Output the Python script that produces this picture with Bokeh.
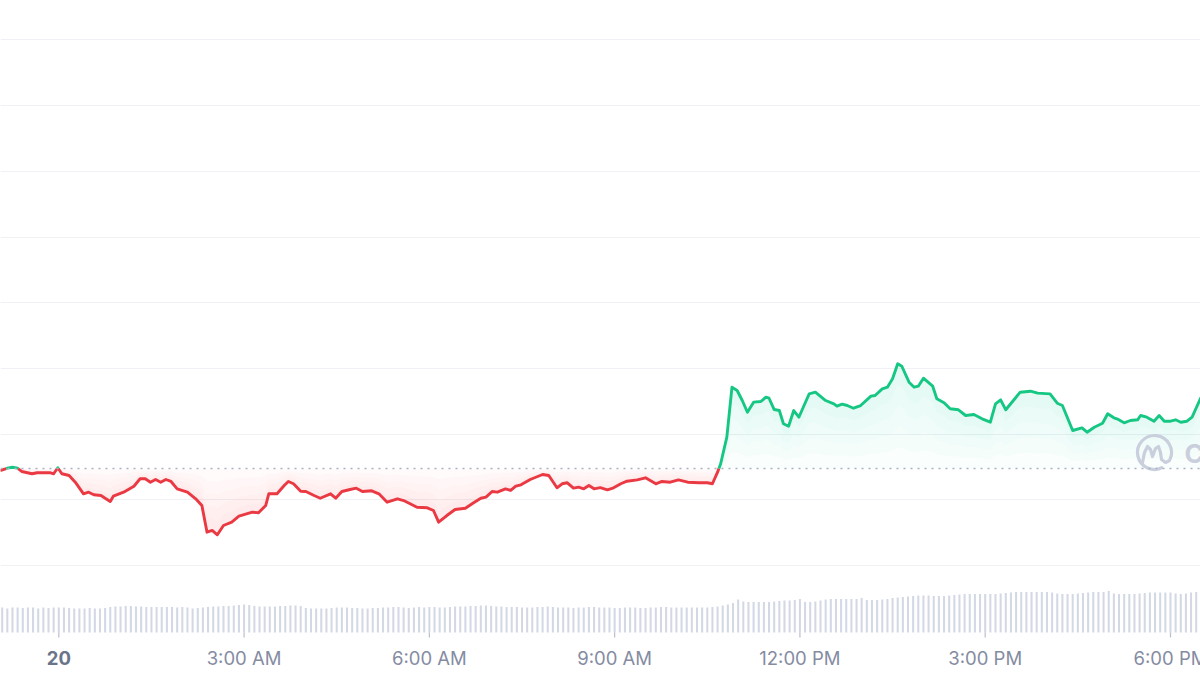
import math
from bokeh.plotting import figure
from bokeh.models import Range1d, FixedTicker, Grid, Span
from bokeh.core.properties import value
from bokeh.embed import file_html
from bokeh.resources import INLINE

# ---------------- data ----------------
# price line: minutes since midnight of the 20th, value (arbitrary price units)
price_minutes = [-57, -50, -45, -40, -36, -26, -21, -8, -5, -1, 3, 10, 16, 24, 29, 34, 41, 45, 50, 53,
                 63, 73, 79, 84, 89, 94, 99, 104, 109, 115, 125, 133, 139, 144, 149, 154, 160, 168, 175, 188,
                 194, 201, 204, 212, 219, 223, 228, 235, 240, 248, 254, 264, 269, 275, 283, 289, 295, 304, 311, 319,
                 329, 335, 348, 358, 364, 369, 377, 385, 395, 403, 410, 415, 421, 426, 434, 439, 444, 449, 458, 470,
                 476, 484, 489, 494, 500, 505, 510, 515, 520, 526, 533, 539, 546, 552, 562, 570, 580, 586, 594, 602,
                 611, 622, 630, 635, 640, 643, 649, 654, 659, 664, 669, 675, 682, 687, 690, 695, 700, 704, 709, 714,
                 719, 724, 729, 735, 745, 753, 756, 761, 766, 772, 779, 789, 793, 800, 805, 810, 815, 819, 826, 831,
                 835, 840, 849, 853, 860, 866, 874, 881, 889, 897, 905, 910, 915, 920, 934, 944, 951, 963, 970, 975,
                 985, 994, 999, 1006, 1014, 1019, 1025, 1028, 1035, 1041, 1048, 1051, 1057, 1064, 1069, 1074, 1080, 1085, 1090, 1096,
                 1101, 1109, 1114]
price_values = [14.46, 14.81, 14.96, 14.81, 14.31, 13.96, 14.11, 14.11, 13.96, 14.87, 13.96, 13.70, 12.68, 10.91, 11.16, 10.76, 10.65, 10.24, 9.74, 10.55,
                11.16, 12.07, 13.20, 13.20, 12.68, 13.09, 12.68, 13.09, 12.79, 11.67, 11.16, 10.15, 9.13, 5.07, 5.33, 4.67, 6.09, 6.59, 7.50, 8.11,
                8.02, 9.13, 10.91, 10.91, 12.18, 12.79, 12.44, 11.30, 11.26, 10.65, 10.24, 10.91, 10.24, 11.26, 11.57, 11.77, 11.26, 11.37, 10.91, 9.63,
                10.15, 9.89, 8.87, 8.78, 8.37, 6.59, 7.61, 8.52, 8.72, 9.54, 10.24, 10.40, 11.26, 11.16, 11.67, 11.42, 12.07, 12.28, 13.09, 13.85,
                13.70, 11.83, 12.44, 12.59, 11.77, 11.92, 11.67, 12.18, 11.67, 11.85, 11.52, 11.83, 12.44, 12.83, 13.04, 13.35, 12.44, 12.79, 12.68, 13.04,
                12.68, 12.59, 12.59, 12.44, 14.20, 15.48, 19.53, 27.14, 26.64, 25.11, 23.33, 24.86, 24.96, 25.62, 25.46, 23.74, 23.59, 21.57, 21.20, 23.59,
                22.57, 24.35, 26.13, 26.38, 25.11, 24.61, 24.25, 24.55, 24.35, 23.94, 24.35, 25.77, 25.88, 26.89, 27.14, 28.42, 30.70, 30.33, 27.90, 27.14,
                27.29, 28.51, 27.29, 25.37, 24.76, 23.85, 23.70, 22.83, 22.98, 22.33, 21.81, 24.61, 25.22, 23.70, 26.38, 26.53, 26.23, 26.13, 24.70, 24.35,
                20.55, 20.96, 20.29, 21.05, 21.66, 23.09, 22.48, 22.33, 21.72, 22.07, 22.18, 22.83, 22.57, 21.96, 22.83, 21.96, 21.96, 22.18, 21.81, 21.96,
                22.57, 25.37, 26.64]
baseline_value = 14.76   # opening price (dotted reference line)

# volume bars every 5 minutes, starting at minute -55
volume_start_minute = -55
volume_step_minutes = 5
volume_values = [25, 24, 25, 25, 24.5, 25, 25, 24, 25, 24.5, 25,
                 25, 25, 24.5, 24, 24, 24, 24.5, 24, 24, 24.5, 25.5, 26,
                 26, 26.5, 26.5, 26, 26, 25.5, 25.5, 25.5, 25.5, 25.5, 25.5, 25,
                 25.5, 25, 24, 24.5, 25, 25.5, 26, 26, 26.5, 26.5, 27, 27.5,
                 28, 27.5, 26.5, 26, 26, 26, 26, 26.5, 26.5, 27, 27, 26.5,
                 24.5, 24, 24, 24, 24, 24.5, 25, 25, 25, 24.5, 24.5, 24,
                 24, 24.5, 24.5, 25, 25, 25.5, 25.5, 25, 24.5, 25, 25.5, 25,
                 25.5, 25.5, 25, 25, 25.5, 26, 26, 26, 26.5, 26.5, 27, 27,
                 26.5, 26, 26, 25.5, 25.5, 25.5, 25, 25, 25, 25.5, 25.5, 26,
                 25.5, 25, 25, 25, 24.5, 25, 25, 25.5, 25.5, 25, 25, 25,
                 24.5, 24.5, 25, 25, 25, 24.5, 24.5, 25, 25, 25.5, 25.5, 25,
                 25, 25, 25, 25, 25, 25, 25, 25.5, 26, 27, 28, 29.5,
                 33, 31, 30.5, 30.5, 30.5, 30.5, 30.5, 31, 31.5, 32, 32, 32.5,
                 33.5, 30.5, 30.5, 31, 32, 33, 33.5, 33.5, 33.5, 33.5, 33.5, 33.5,
                 34.5, 32.5, 32.5, 32.5, 33, 33.5, 34.5, 35, 35.5, 36, 36.5, 37,
                 37, 37, 36.5, 36.5, 36.5, 37, 37.5, 38, 38.5, 38.5, 38.5, 38.5,
                 38.5, 38.5, 38.5, 39, 39.5, 40, 40.5, 40.5, 40.5, 40.5, 40.5, 40.5,
                 40.5, 40, 39, 38.5, 38.5, 38.5, 39, 39.5, 40, 40.5, 40.5, 40.5,
                 41.5, 39, 38.5, 38.5, 38.5, 38.5, 39, 39.5, 40, 40, 40, 40,
                 40, 39, 38.5, 39, 40, 40.5, 40.5]
volume_minutes = [volume_start_minute + i * volume_step_minutes for i in range(len(volume_values))]

tick_minutes = [0, 180, 360, 540, 720, 900, 1080]
tick_labels = ["20", "3:00 AM", "6:00 AM", "9:00 AM", "12:00 PM", "3:00 PM", "6:00 PM"]
tick_bold = [True, False, False, False, False, False, False]
grid_values = [0, 10, 20, 30, 40, 50, 60, 70, 80]

RED = "#ea3943"
GREEN = "#16c784"
FONT = "Inter"

# ---------------- layout helpers (screen pixel -> data) ----------------
PX_PER_HOUR = 61.76
X0_PX = 58.3          # pixel of minute 0
def px_t(xpx):
    return (xpx - X0_PX) * 60.0 / PX_PER_HOUR

def px_v(ypx):
    return (565.0 - ypx) / 6.57

W, H = 1200, 675
VOL_BASE_PX = 632

# ---------------- split line at baseline ----------------
xs, ys = [price_minutes[0]], [price_values[0]]
for i in range(1, len(price_values)):
    t0, v0 = price_minutes[i - 1], price_values[i - 1]
    t1, v1 = price_minutes[i], price_values[i]
    if (v0 - baseline_value) * (v1 - baseline_value) < 0:
        tc = t0 + (baseline_value - v0) / (v1 - v0) * (t1 - t0)
        xs.append(tc)
        ys.append(baseline_value)
    xs.append(t1)
    ys.append(v1)

green_y = [y if y >= baseline_value else float("nan") for y in ys]
red_y = [y if y <= baseline_value else float("nan") for y in ys]
up_y = [max(y, baseline_value) for y in ys]
dn_y = [min(y, baseline_value) for y in ys]

# ---------------- figure ----------------
p = figure(width=W, height=H,
           x_range=Range1d(px_t(0), px_t(W)), y_range=Range1d(px_v(H), px_v(0)),
           output_backend="svg", toolbar_location=None,
           x_axis_location=None, y_axis_location=None,
           min_border_left=0, min_border_right=0, min_border_top=0, min_border_bottom=0,
           outline_line_color=None, background_fill_color="white", border_fill_color="white")
p.extra_y_ranges = {"vol": Range1d(-(H - VOL_BASE_PX), VOL_BASE_PX)}
for g in list(p.grid):
    g.visible = False

grid = Grid(dimension=1, ticker=FixedTicker(ticks=grid_values),
            grid_line_color="#eff1f4", grid_line_width=1.2)
p.add_layout(grid)

# gradient-like fills (stacked translucent bands, denser near the line)
n_layers = 5
for k in range(n_layers):
    f = k / n_layers
    p.varea(x=xs, y1=[baseline_value + (u - baseline_value) * f for u in up_y], y2=up_y,
            fill_color=GREEN, fill_alpha=0.02)
    p.varea(x=xs, y1=[baseline_value + (d - baseline_value) * f for d in dn_y], y2=dn_y,
            fill_color=RED, fill_alpha=0.02)

p.add_layout(Span(location=baseline_value, dimension="width", line_color="#aab2c2",
                  line_width=1.4, line_dash="2 5"))

# volume
p.vbar(x=volume_minutes, top=volume_values, bottom=0, width=2.0, y_range_name="vol",
       fill_color="#d3d8e5", line_color=None)

# watermark (CoinMarketCap logo, partly visible)
logo_col = "#c9cfdc"
p.arc(x=[px_t(1154)], y=[px_v(452)], radius=17, radius_units="screen",
      start_angle=math.radians(-25), end_angle=math.radians(300),
      line_color=logo_col, line_width=3.2)
m_px = [(1142, 462), (1144, 452), (1147, 446), (1150, 449), (1152, 456), (1155, 448),
        (1158, 446), (1160, 452), (1161, 459), (1165, 462), (1169, 460)]
p.line([px_t(a) for a, b in m_px], [px_v(b) for a, b in m_px], line_color=logo_col,
       line_width=3.2, line_join="round", line_cap="round")
p.text(x=[px_t(1184)], y=[px_v(453)], text=["CoinMarketCap"], text_font=value(FONT),
       text_font_size="26px", text_font_style="bold", text_color=logo_col,
       text_baseline="middle", text_align="left")

# price line
p.line(xs, red_y, line_color=RED, line_width=2.9, line_join="round")
p.line(xs, green_y, line_color=GREEN, line_width=2.9, line_join="round")

# time axis: tick marks + labels
p.segment(x0=tick_minutes, x1=tick_minutes,
          y0=[px_v(VOL_BASE_PX)] * len(tick_minutes), y1=[px_v(VOL_BASE_PX + 5)] * len(tick_minutes),
          line_color="#b8bfcc", line_width=1.2)
norm_t = [t for t, b in zip(tick_minutes, tick_bold) if not b]
norm_l = [l for l, b in zip(tick_labels, tick_bold) if not b]
bold_t = [t for t, b in zip(tick_minutes, tick_bold) if b]
bold_l = [l for l, b in zip(tick_labels, tick_bold) if b]
p.text(x=norm_t, y=[px_v(657)] * len(norm_t), text=norm_l, text_font=value(FONT),
       text_font_size="18.5px", text_color="#858ca2", text_align="center", text_baseline="middle")
p.text(x=bold_t, y=[px_v(657)] * len(bold_t), text=bold_l, text_font=value(FONT),
       text_font_size="18.5px", text_font_style="bold", text_color="#6b7489",
       text_align="center", text_baseline="middle")

open("out.html", "w").write(file_html(p, INLINE))
